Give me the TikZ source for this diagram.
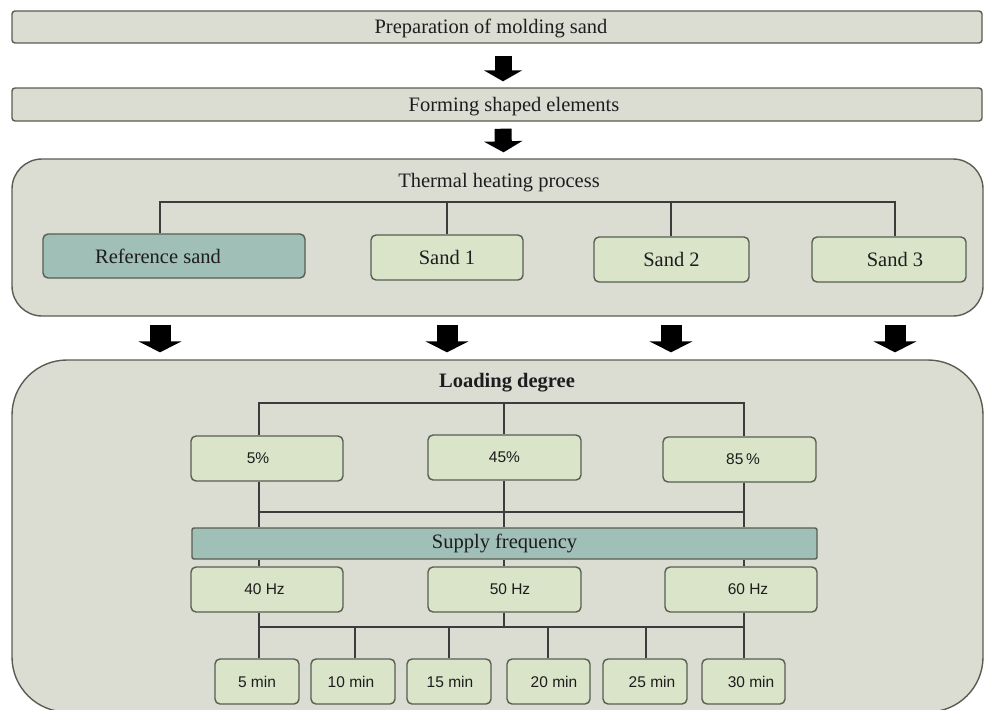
\documentclass[tikz,border=0pt]{standalone}
\usepackage{fontspec}
\setmainfont{Liberation Serif}
\setsansfont{Liberation Sans}
\usetikzlibrary{arrows.meta,calc}
\definecolor{grayfill}{RGB}{219,221,211}
\definecolor{greenfill}{RGB}{217,228,200}
\definecolor{tealfill}{RGB}{160,191,183}
\definecolor{bordercol}{RGB}{88,94,82}
\definecolor{linecol}{RGB}{60,60,60}
\definecolor{txtcol}{RGB}{30,28,30}
\begin{document}
\begin{tikzpicture}[x=1pt,y=-1pt,
  serif/.style={font=\fontsize{20.5}{22}\selectfont\rmfamily,text=txtcol},
  sans/.style={font=\fontsize{15.5}{17}\selectfont\sffamily,text=txtcol},
  bar/.style={draw=bordercol,line width=1.4pt,fill=grayfill,rounded corners=3pt,inner sep=0pt},
  panel/.style={draw=bordercol,line width=1.4pt,fill=grayfill},
  gbox/.style={draw=bordercol,line width=1.4pt,fill=greenfill,rounded corners=5pt,inner sep=0pt,minimum height=45pt},
  tbox/.style={draw=bordercol,line width=1.4pt,fill=tealfill,rounded corners=5pt,inner sep=0pt},
  conn/.style={draw=linecol,line width=1.3pt},
  blockA/.style={line width=17pt,-{Triangle[width=38pt,length=11pt]},black},
  blockB/.style={line width=21pt,-{Triangle[width=43pt,length=11pt]},black}]
\useasboundingbox (0,0) rectangle (984,709);

% top bars
\node[bar,minimum width=970pt,minimum height=32pt] (prep) at (497,27) {};
\node[serif] (prept) at (491,28) {Preparation of molding sand};
\node[bar,minimum width=970pt,minimum height=33pt] (form) at (497,104.5) {};
\node[serif] (formt) at (514,107) {Forming shaped elements};

\draw[blockA] ($(prep.south)+(6,12)$) -- ($(form.north)+(6,-6)$);

% thermal panel
\node[panel,rounded corners=30pt,minimum width=971pt,minimum height=157pt,inner sep=0pt] (therm) at (497.5,237.5) {};
\draw[blockA] ($(form.south)+(6,7)$) -- ($(therm.north)+(6,-6)$);
\node[serif] (thermt) at (499,183) {Thermal heating process};

\coordinate (t0) at (160,202);
\coordinate (t1) at (447,202);
\coordinate (t2) at (671,202);
\coordinate (t3) at (895,202);

\node[tbox,minimum width=262pt,minimum height=44pt,serif] (ref) at (174,256) {\hspace*{-32pt}Reference sand};
\node[gbox,minimum width=152pt,serif] (s1) at (447,257.5) {Sand 1};
\node[gbox,minimum width=155pt,serif] (s2) at (671.5,259.5) {Sand 2};
\node[gbox,minimum width=154pt,serif] (s3) at (889,259.5) {\hspace*{12pt}Sand 3};

\draw[conn] (t0 |- ref.north) -- (t0) -- (t3) -- (t3 |- s3.north);
\draw[conn] (t1) -- (t1 |- s1.north);
\draw[conn] (t2) -- (t2 |- s2.north);

% loading panel
\node[panel,rounded corners=55pt,minimum width=971pt,minimum height=352pt,inner sep=0pt] (load) at (497.5,536) {};

\foreach \c in {t0,t1,t2,t3}{
  \draw[blockB] ($(\c |- therm.south)+(0,8)$) -- ($(\c |- load.north)+(0,-7)$);
}

\node[serif,font=\fontsize{20.5}{22}\selectfont\rmfamily\bfseries] (loadt) at (507,383) {Loading degree};

\coordinate (cA) at (259,403);
\coordinate (cB) at (504,403);
\coordinate (cC) at (744,403);
\coordinate (h2) at (0,512);
\coordinate (h3) at (0,627);

\node[gbox,minimum width=152pt,sans] (p5) at (267,458.5) {\hspace*{-18pt}5\%};
\node[gbox,minimum width=153pt,sans] (p45) at (504.5,457.5) {45\%};
\node[gbox,minimum width=153pt,sans] (p85) at (739.5,459.5) {\hspace*{7pt}85\,\%};

\node[tbox,rounded corners=2pt,minimum width=625pt,minimum height=31pt,serif] (sup) at (504.5,543.5) {Supply frequency};

\node[gbox,minimum width=152pt,sans] (hz40) at (267,589.5) {\hspace*{-5pt}40 Hz};
\node[gbox,minimum width=153pt,sans] (hz50) at (504.5,589.5) {\hspace*{11pt}50 Hz};
\node[gbox,minimum width=152pt,sans] (hz60) at (741,589.5) {\hspace*{14pt}60 Hz};

\node[gbox,minimum width=84pt,sans] (m5) at (257,681.5) {5 min};
\node[gbox,minimum width=84pt,sans] (m10) at (353,681.5) {\hspace*{-4pt}10 min};
\node[gbox,minimum width=84pt,sans] (m15) at (449,681.5) {\hspace*{2pt}15 min};
\node[gbox,minimum width=83pt,sans] (m20) at (548.5,681.5) {\hspace*{11pt}20 min};
\node[gbox,minimum width=84pt,sans] (m25) at (645,681.5) {\hspace*{14pt}25 min};
\node[gbox,minimum width=83pt,sans] (m30) at (743.5,681.5) {\hspace*{15pt}30 min};

% loading degree tree
\draw[conn] (cA |- p5.north) -- (cA) -- (cC) -- (cC |- p85.north);
\draw[conn] (cB) -- (cB |- p45.north);
\draw[conn] (cA |- p5.south) -- (cA |- sup.north);
\draw[conn] (cB |- p45.south) -- (cB |- sup.north);
\draw[conn] (cC |- p85.south) -- (cC |- sup.north);
\draw[conn] (cA |- h2) -- (cC |- h2);
\draw[conn] (cA |- sup.south) -- (cA |- hz40.north);
\draw[conn] (cB |- sup.south) -- (cB |- hz50.north);
\draw[conn] (cC |- sup.south) -- (cC |- hz60.north);

% frequency to time tree
\draw[conn] (cA |- hz40.south) -- (cA |- h3) -- (cC |- h3);
\draw[conn] (cB |- hz50.south) -- (cB |- h3);
\draw[conn] (cC |- hz60.south) -- (cC |- m30.north);
\draw[conn] (cA |- h3) -- (cA |- m5.north);
\foreach \m/\x in {m10/355,m15/449,m20/548,m25/646}{
  \draw[conn] (\x,627) -- (\x,0 |- \m.north);
}
\end{tikzpicture}
\end{document}
